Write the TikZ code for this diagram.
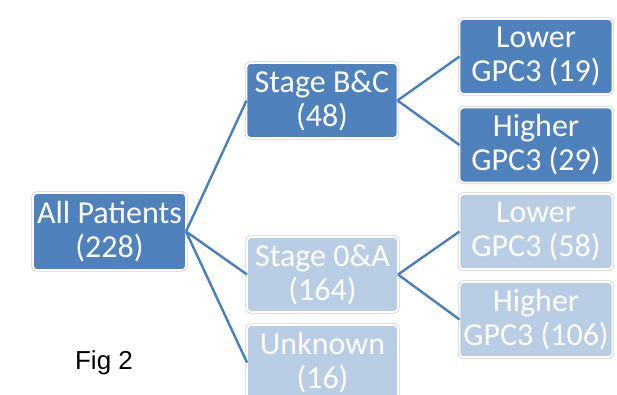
\documentclass[tikz,border=0pt]{standalone}
\usepackage{fontspec}
\setmainfont{Carlito}
\newfontfamily\figfont{Liberation Sans}
\usepackage{xcolor}
\usetikzlibrary{positioning}
\definecolor{darkblue}{HTML}{4F81BD}
\definecolor{lightblue}{HTML}{B9CDE5}
\definecolor{linkblue}{HTML}{4A7EBB}

\begin{document}
\begin{tikzpicture}[x=1pt,y=-1pt,
    box/.style={rectangle,rounded corners=4pt,draw=white,line width=1.8pt,align=center,
        text=white,font=\fontsize{32}{34}\selectfont,minimum width=151pt,minimum height=75pt,
        inner sep=0pt,outer sep=0pt,
        preaction={draw=black!18,line width=3.4pt}},
    strong/.style={box,fill=darkblue},
    faint/.style={box,fill=lightblue},
    link/.style={draw=linkblue,line width=2.4pt}
]
\useasboundingbox (0,0) rectangle (617,394);
\node[strong,minimum width=153pt,minimum height=77pt] (all) at (109.5,231.5) {All Patients\\(228)};
\node[strong] (bc) at (322,100.5) {Stage B\&C\\(48)};
\node[faint] (oa) at (322.5,274.5) {Stage 0\&A\\(164)};
\node[faint] (unk) at (322.5,362.5) {Unknown\\(16)};
\node[strong,minimum width=153pt] (lowbc) at (536,56.5) {Lower\\GPC3 (19)};
\node[strong,minimum width=153pt] (highbc) at (536,145) {Higher\\GPC3 (29)};
\node[faint,minimum width=153pt] (lowoa) at (536,231.5) {Lower\\GPC3 (58)};
\node[faint,minimum width=153pt] (highoa) at (536,319.5) {Higher\\GPC3 (106)};
\node[font=\figfont\fontsize{26}{30}\selectfont] (fig) at (104,363) {Fig 2};
\draw[link] (all.east) -- (bc.west);
\draw[link] (all.east) -- (oa.west);
\draw[link] (all.east) -- (unk.west);
\draw[link] (bc.east) -- (lowbc.west);
\draw[link] (bc.east) -- (highbc.west);
\draw[link] (oa.east) -- (lowoa.west);
\draw[link] (oa.east) -- (highoa.west);
\end{tikzpicture}
\end{document}
